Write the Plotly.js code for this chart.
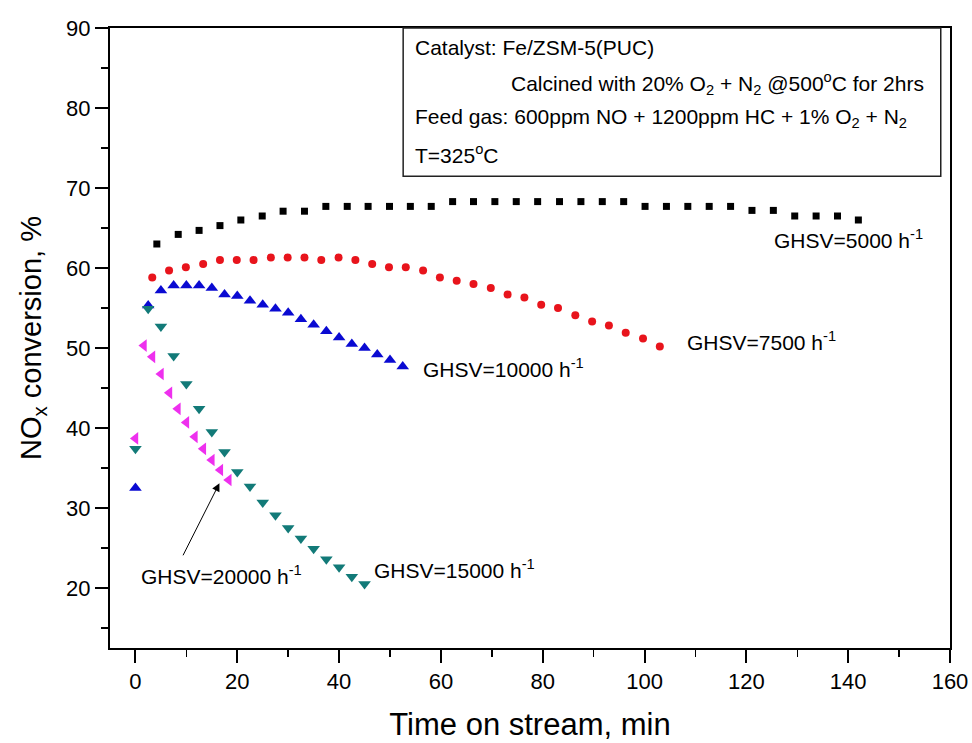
<!DOCTYPE html>
<html>
<head>
<meta charset="utf-8">
<script src="https://cdn.plot.ly/plotly-3.0.1.min.js"></script>
<style>html,body{margin:0;padding:0;background:#fff;}#chart{width:972px;height:743px;}</style>
</head>
<body>
<div id="chart"></div>
<script>
// GHSV = 5000 h-1 (black squares)
const x5000 = [4.2, 8.4, 12.5, 16.6, 20.7, 24.9, 29.0, 33.2, 37.4, 41.6, 45.7, 49.9, 54.0, 58.1, 62.3, 66.4, 70.6, 74.8, 79.0, 83.3, 87.5, 91.7, 95.9, 100.1, 104.3, 108.5, 112.7, 116.9, 121.1, 125.3, 129.5, 133.7, 137.9, 142.0];
const y5000 = [63.0, 64.2, 64.7, 65.3, 66.0, 66.5, 67.1, 67.1, 67.7, 67.7, 67.7, 67.7, 67.7, 67.7, 68.3, 68.3, 68.3, 68.3, 68.3, 68.3, 68.3, 68.3, 68.3, 67.7, 67.7, 67.7, 67.7, 67.7, 67.2, 67.2, 66.5, 66.5, 66.5, 66.0];
// GHSV = 7500 h-1 (red circles)
const x7500 = [3.3, 6.6, 9.9, 13.3, 16.6, 19.9, 23.2, 26.6, 29.9, 33.2, 36.5, 39.9, 43.2, 46.5, 49.8, 53.1, 56.5, 59.8, 63.1, 66.4, 69.8, 73.1, 76.4, 79.7, 83.0, 86.4, 89.7, 93.0, 96.3, 99.7, 103.0];
const y7500 = [58.8, 59.7, 60.1, 60.5, 61.0, 61.0, 61.0, 61.3, 61.3, 61.3, 61.0, 61.3, 61.0, 60.5, 60.1, 60.1, 59.7, 58.8, 58.4, 58.0, 57.5, 56.7, 56.3, 55.4, 55.0, 54.1, 53.3, 52.8, 51.9, 51.2, 50.2];
// GHSV = 10000 h-1 (blue up-triangles)
const x10000 = [0, 2.5, 5, 7.5, 10, 12.5, 15, 17.5, 20, 22.5, 25, 27.5, 30, 32.5, 35, 37.5, 40, 42.5, 45, 47.5, 50, 52.5];
const y10000 = [32.5, 55.3, 57.2, 57.8, 57.8, 57.8, 57.5, 56.7, 56.5, 55.9, 55.4, 54.9, 54.4, 53.6, 52.9, 52.1, 51.3, 50.5, 50.0, 49.2, 48.5, 47.7];
// GHSV = 15000 h-1 (teal down-triangles)
const x15000 = [0, 2.5, 5, 7.5, 10, 12.5, 15, 17.5, 20, 22.5, 25, 27.5, 30, 32.5, 35, 37.5, 40, 42.5, 45];
const y15000 = [37.4, 54.9, 52.7, 49.0, 45.5, 42.4, 39.5, 37.0, 34.5, 32.7, 30.7, 29.1, 27.5, 26.2, 24.9, 23.6, 22.6, 21.4, 20.5];
// GHSV = 20000 h-1 (magenta left-triangles)
const x20000 = [0, 1.67, 3.33, 5.0, 6.67, 8.33, 10.0, 11.67, 13.33, 15.0, 16.67, 18.33];
const y20000 = [38.7, 50.3, 48.9, 46.75, 44.4, 42.4, 40.7, 38.9, 37.4, 36.0, 34.75, 33.5];

const seriesNames = ["GHSV=5000 h<sup>-1</sup>", "GHSV=7500 h<sup>-1</sup>", "GHSV=10000 h<sup>-1</sup>", "GHSV=15000 h<sup>-1</sup>", "GHSV=20000 h<sup>-1</sup>"];
const xTickVals = [0, 20, 40, 60, 80, 100, 120, 140, 160];
const yTickVals = [20, 30, 40, 50, 60, 70, 80, 90];

const traces = [
  {x: x5000, y: y5000, mode: 'markers', type: 'scatter', marker: {symbol: 'square', size: 7, color: '#000000'}},
  {x: x7500, y: y7500, mode: 'markers', type: 'scatter', marker: {symbol: 'circle', size: 8, color: '#e8141c'}},
  {x: x10000, y: y10000, mode: 'markers', type: 'scatter', marker: {symbol: 'triangle-up', size: 11, color: '#0a0ad2'}},
  {x: x15000, y: y15000, mode: 'markers', type: 'scatter', marker: {symbol: 'triangle-down', size: 11, color: '#127a78'}},
  {x: x20000, y: y20000, mode: 'markers', type: 'scatter', marker: {symbol: 'triangle-left', size: 11, color: '#ee30ee'}}
];

const font = 'Liberation Sans, Arial, sans-serif';
const lblFont = {family: font, size: 21, color: '#000'};
const boxFont = {family: font, size: 21, color: '#000'};

const annotations = [
  {x: 125.1, y: 63.6, xref: 'x', yref: 'y', text: seriesNames[0], showarrow: false, xanchor: 'left', yanchor: 'middle', font: lblFont},
  {x: 108.0, y: 50.9, xref: 'x', yref: 'y', text: seriesNames[1], showarrow: false, xanchor: 'left', yanchor: 'middle', font: lblFont},
  {x: 56.1, y: 47.5, xref: 'x', yref: 'y', text: seriesNames[2], showarrow: false, xanchor: 'left', yanchor: 'middle', font: lblFont},
  {x: 46.5, y: 22.4, xref: 'x', yref: 'y', text: seriesNames[3], showarrow: false, xanchor: 'left', yanchor: 'middle', font: lblFont},
  {x: 0.6, y: 21.6, xref: 'x', yref: 'y', text: seriesNames[4], showarrow: false, xanchor: 'left', yanchor: 'middle', font: lblFont},
  {x: 16.5, y: 33.1, xref: 'x', yref: 'y', ax: 9.2, ay: 23.9, axref: 'x', ayref: 'y', text: '', showarrow: true, arrowhead: 2, arrowsize: 1.6, arrowwidth: 1, arrowcolor: '#000'},
  {x: 0.361, y: 0.968, xref: 'paper', yref: 'paper', text: 'Catalyst: Fe/ZSM-5(PUC)', showarrow: false, xanchor: 'left', yanchor: 'middle', font: boxFont},
  {x: 0.972, y: 0.910, xref: 'paper', yref: 'paper', text: 'Calcined with 20% O<sub>2</sub> + N<sub>2</sub> @500<sup>o</sup>C for 2hrs', showarrow: false, xanchor: 'right', yanchor: 'middle', font: boxFont},
  {x: 0.361, y: 0.855, xref: 'paper', yref: 'paper', text: 'Feed gas: 600ppm NO + 1200ppm HC + 1% O<sub>2</sub> + N<sub>2</sub>', showarrow: false, xanchor: 'left', yanchor: 'middle', font: boxFont},
  {x: 0.361, y: 0.797, xref: 'paper', yref: 'paper', text: 'T=325<sup>o</sup>C', showarrow: false, xanchor: 'left', yanchor: 'middle', font: boxFont}
];

const layout = {
  width: 972, height: 743,
  margin: {l: 110, r: 22, t: 28, b: 95},
  paper_bgcolor: '#ffffff', plot_bgcolor: '#ffffff',
  showlegend: false,
  xaxis: {
    range: [-5, 160], tickvals: xTickVals, ticks: 'outside', ticklen: 13, tickwidth: 2, tickcolor: '#000',
    minor: {dtick: 10, ticks: 'outside', ticklen: 7, tickwidth: 1.5, tickcolor: '#000'},
    showline: true, linewidth: 2, linecolor: '#000', mirror: true, showgrid: false, zeroline: false,
    tickfont: {family: font, size: 22, color: '#000'},
    title: {text: 'Time on stream, min', font: {family: font, size: 31, color: '#000'}, standoff: 20}
  },
  yaxis: {
    range: [12.5, 90], tickvals: yTickVals, ticks: 'outside', ticklen: 13, tickwidth: 2, tickcolor: '#000',
    minor: {dtick: 5, ticks: 'outside', ticklen: 7, tickwidth: 1.5, tickcolor: '#000'},
    showline: true, linewidth: 2, linecolor: '#000', mirror: true, showgrid: false, zeroline: false,
    tickfont: {family: font, size: 22, color: '#000'},
    title: {text: 'NO<sub>x</sub> conversion, %', font: {family: font, size: 29, color: '#000'}, standoff: 16}
  },
  shapes: [
    {type: 'rect', xref: 'paper', yref: 'paper', x0: 0.349, x1: 0.989, y0: 0.761, y1: 1.0, line: {color: '#222', width: 1.5}, fillcolor: 'rgba(0,0,0,0)'}
  ],
  annotations: annotations
};

Plotly.newPlot('chart', traces, layout, {staticPlot: true, displayModeBar: false});
</script>
</body>
</html>
